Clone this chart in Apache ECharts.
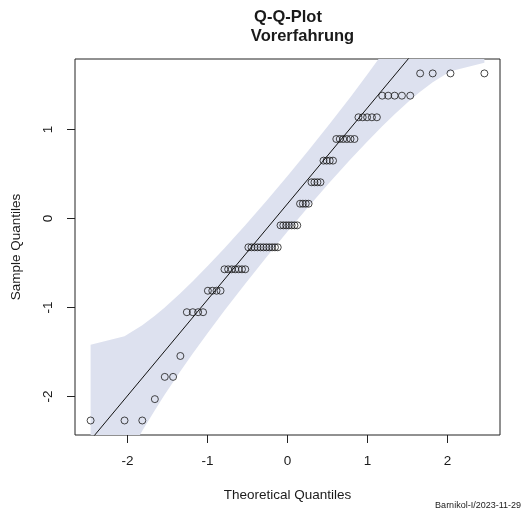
<!DOCTYPE html>
<html>
<head>
<meta charset="utf-8">
<script src="https://cdn.jsdelivr.net/npm/echarts@6/dist/echarts.min.js"></script>
<style>
  html, body { margin: 0; padding: 0; background: #fff; }
  #chart { width: 523px; height: 516px; }
</style>
</head>
<body>
<div id="chart"></div>
<script>
// Standardised sample values (distinct levels) and how often each occurs
var sampleLevels = [-2.27, -2.03, -1.78, -1.545, -1.053, -0.812, -0.571, -0.324,
                    -0.077, 0.166, 0.407, 0.65, 0.893, 1.137, 1.38, 1.63];
var sampleCounts = [3, 1, 2, 1, 4, 4, 7, 11, 7, 4, 4, 4, 6, 5, 5, 4];

// Theoretical normal quantiles for n = 72 (lower half; upper half mirrors it)
var theoLower = [-2.461, -2.037, -1.815, -1.658, -1.534, -1.430, -1.339, -1.258,
                 -1.184, -1.117, -1.055, -0.995, -0.940, -0.887, -0.837, -0.788,
                 -0.742, -0.697, -0.653, -0.610, -0.569, -0.528, -0.489, -0.450,
                 -0.412, -0.374, -0.337, -0.300, -0.264, -0.228, -0.192, -0.157,
                 -0.122, -0.087, -0.052, -0.017];

// Reference line end points
var qqLineX = [-2.66, 2.66];
var qqLineY = [-2.704, 3.035];

// Pointwise 95% envelope
var bandX     = [-2.461, -2.037, -1.815, -1.658, -1.534, -1.339, -1.184, -0.995, -0.788, -0.528, -0.264, 0,
                 0.264, 0.528, 0.788, 0.995, 1.184, 1.339, 1.534, 1.658, 1.815, 2.037, 2.461];
var bandUpper = [-1.418, -1.322, -1.199, -1.092, -0.999, -0.840, -0.706, -0.532, -0.334, -0.076, 0.197, 0.478,
                 0.767, 1.064, 1.366, 1.614, 1.849, 2.048, 2.310, 2.485, 2.717, 3.073, 3.891];
var bandLower = [-3.560, -2.742, -2.386, -2.154, -1.979, -1.717, -1.518, -1.283, -1.035, -0.733, -0.436, -0.147,
                 0.134, 0.407, 0.665, 0.863, 1.037, 1.171, 1.330, 1.423, 1.530, 1.653, 1.749];

// Axis ticks
var xTicks = [-2, -1, 0, 1, 2];
var yTicks = [-2, -1, 0, 1];

// Assemble the sorted sample with its theoretical quantiles
var theo = theoLower.concat(theoLower.slice().reverse().map(function (v) { return -v; }));
var sample = [];
sampleLevels.forEach(function (lv, k) {
  for (var c = 0; c < sampleCounts[k]; c++) sample.push(lv);
});
var points = sample.map(function (y, i) { return [theo[i], y]; });
var linePts = qqLineX.map(function (x, i) { return [x, qqLineY[i]]; });

var textColor = '#1a1a1a';
var font = 'Liberation Sans, Arial, sans-serif';

var chart = echarts.init(document.getElementById('chart'), null, { renderer: 'canvas' });
chart.setOption({
  animation: false,
  backgroundColor: '#fff',
  graphic: [
    { type: 'text', x: 288, y: 17,
      style: { text: 'Q-Q-Plot', align: 'center', verticalAlign: 'middle',
               font: 'bold 16.5px ' + font, fill: textColor } },
    { type: 'text', x: 302.5, y: 36,
      style: { text: 'Vorerfahrung', align: 'center', verticalAlign: 'middle',
               font: 'bold 16.5px ' + font, fill: textColor } },
    { type: 'text', right: 2, top: 501,
      style: { text: 'Barnikol-I/2023-11-29', font: '9px ' + font, fill: textColor } }
  ],
  grid: { left: 75, right: 23, top: 59, bottom: 81, show: true, borderColor: '#222', borderWidth: 1, backgroundColor: 'transparent' },
  xAxis: {
    type: 'value', min: -2.656, max: 2.656,
    name: 'Theoretical Quantiles', nameLocation: 'middle', nameGap: 53,
    nameTextStyle: { fontFamily: font, fontSize: 13.5, color: textColor },
    axisLine: { show: false, onZero: false },
    splitLine: { show: false },
    axisTick: { show: true, inside: false, length: 8, customValues: xTicks, lineStyle: { color: '#222' } },
    axisLabel: { customValues: xTicks, margin: 19, fontFamily: font, fontSize: 13.5, color: textColor }
  },
  yAxis: {
    type: 'value', min: -2.433, max: 1.792,
    name: 'Sample Quantiles', nameLocation: 'middle', nameGap: 52, nameRotate: 90,
    nameTextStyle: { fontFamily: font, fontSize: 13.5, color: textColor },
    axisLine: { show: false, onZero: false },
    splitLine: { show: false },
    axisTick: { show: true, inside: false, length: 8, customValues: yTicks, lineStyle: { color: '#222' } },
    axisLabel: { customValues: yTicks, rotate: 90, margin: 20, fontFamily: font, fontSize: 13.5, color: textColor }
  },
  series: [
    {
      type: 'custom',
      clip: true,
      z: 1,
      silent: true,
      data: [[0, 0]],
      renderItem: function (params, api) {
        var pts = [];
        for (var i = 0; i < bandX.length; i++) pts.push(api.coord([bandX[i], bandUpper[i]]));
        for (var j = bandX.length - 1; j >= 0; j--) pts.push(api.coord([bandX[j], bandLower[j]]));
        var cs = params.coordSys;
        return {
          type: 'polygon',
          shape: { points: pts },
          style: { fill: '#dde1ef' },
          clipPath: { type: 'rect', shape: { x: cs.x, y: cs.y, width: cs.width, height: cs.height } }
        };
      }
    },
    {
      type: 'line',
      data: linePts,
      clip: true,
      z: 2,
      symbol: 'none',
      lineStyle: { color: '#111', width: 1 }
    },
    {
      type: 'scatter',
      data: points,
      z: 3,
      symbol: 'circle',
      symbolSize: 7,
      itemStyle: { color: 'rgba(0,0,0,0)', borderColor: '#1a1a1a', borderWidth: 1 }
    }
  ]
});
</script>
</body>
</html>
